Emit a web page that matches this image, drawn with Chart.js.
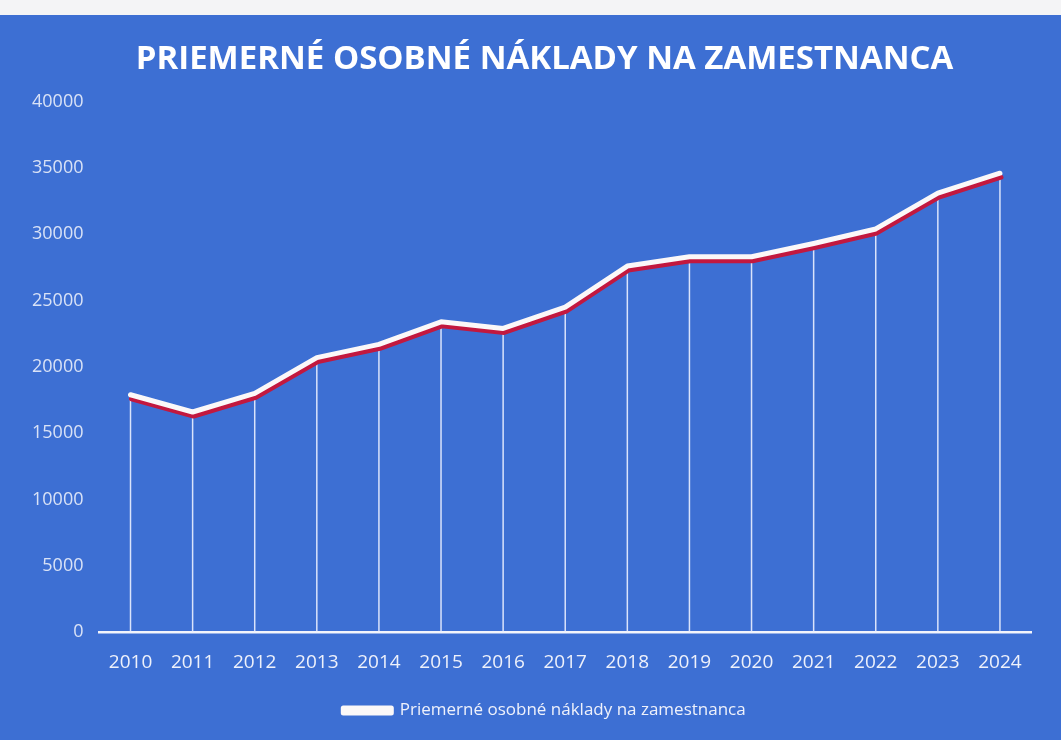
<!DOCTYPE html>
<html>
<head>
<meta charset="utf-8">
<script src="https://cdn.jsdelivr.net/npm/chart.js@4/dist/chart.umd.min.js"></script>
<style>
  html, body { margin: 0; padding: 0; background: #f4f4f6; }
  #wrap {
    position: absolute; left: 0; top: 15px;
    width: 1061px; height: 725px;
    background: #3d6fd3;
  }
</style>
</head>
<body>
<div id="wrap"><canvas id="chart"></canvas></div>
<script>
// --- data ---
const years = ['2010', '2011', '2012', '2013', '2014', '2015', '2016', '2017',
               '2018', '2019', '2020', '2021', '2022', '2023', '2024'];
const costs = [17900, 16600, 18000, 20700, 21700, 23400, 22900, 24500,
               27600, 28300, 28300, 29300, 30400, 33100, 34600];
const seriesName = 'Priemerné osobné náklady na zamestnanca';
const chartTitle = 'PRIEMERNÉ OSOBNÉ NÁKLADY NA ZAMESTNANCA';

const FONT = "'Open Sans', sans-serif";

// thin white drop lines from each point to the x axis
const dropLines = {
  id: 'dropLines',
  beforeDatasetsDraw(chart) {
    const { ctx, scales } = chart;
    const meta = chart.getDatasetMeta(0);
    const base = scales.y.getPixelForValue(0);
    ctx.save();
    ctx.strokeStyle = 'rgba(235,240,255,0.9)';
    ctx.lineWidth = 1.5;
    meta.data.forEach(pt => {
      ctx.beginPath();
      ctx.moveTo(pt.x, pt.y);
      ctx.lineTo(pt.x, base);
      ctx.stroke();
    });
    ctx.restore();
  },
};

// red offset shadow under the white line
const redShadow = {
  id: 'redShadow',
  beforeDatasetDraw(chart) {
    const ctx = chart.ctx;
    ctx.save();
    ctx.shadowColor = '#c2183f';
    ctx.shadowOffsetX = 1;
    ctx.shadowOffsetY = 4;
    ctx.shadowBlur = 0;
  },
  afterDatasetDraw(chart) {
    chart.ctx.restore();
  },
};

// title and legend sit a bit right of the canvas centre in the original
const nudgeHeader = {
  id: 'nudgeHeader',
  afterLayout(chart) {
    const dx = 21;
    [chart.titleBlock, chart.legend].forEach(box => {
      if (!box) return;
      box.left += dx;
      box.right += dx;
    });
  },
};

new Chart(document.getElementById('chart'), {
  type: 'line',
  data: {
    labels: years,
    datasets: [{
      label: seriesName,
      data: costs,
      borderColor: '#fbf8f8',
      backgroundColor: '#fbf8f8',
      borderWidth: 5,
      pointRadius: 0,
      tension: 0,
      borderJoinStyle: 'round',
      borderCapStyle: 'round',
      fill: false,
    }],
  },
  options: {
    responsive: true,
    maintainAspectRatio: false,
    animation: false,
    layout: { padding: { left: 16, right: 30, top: 0, bottom: 11 } },
    scales: {
      x: {
        offset: true,
        grid: { display: false, drawTicks: false },
        border: { display: true, color: '#f2f4fb', width: 2.5 },
        ticks: { color: '#eef1fb', font: { family: FONT, size: 19 }, padding: 19 },
      },
      y: {
        min: 0,
        max: 40000,
        grid: { display: false, drawTicks: false },
        border: { display: false },
        ticks: {
          stepSize: 5000,
          color: '#d9e2f6',
          font: { family: FONT, size: 18 },
          padding: 16,
          callback: (val) => String(val),
        },
      },
    },
    plugins: {
      title: {
        display: true,
        text: chartTitle,
        color: '#ffffff',
        font: { family: FONT, size: 33, weight: 'bold' },
        padding: { top: 25, bottom: 22 },
      },
      legend: {
        position: 'bottom',
        labels: {
          color: '#eef1fb',
          font: { family: FONT, size: 17 },
          boxWidth: 48,
          boxHeight: 5,
          padding: 9,
        },
      },
      tooltip: { enabled: false },
    },
  },
  plugins: [dropLines, redShadow, nudgeHeader],
});
</script>
</body>
</html>
